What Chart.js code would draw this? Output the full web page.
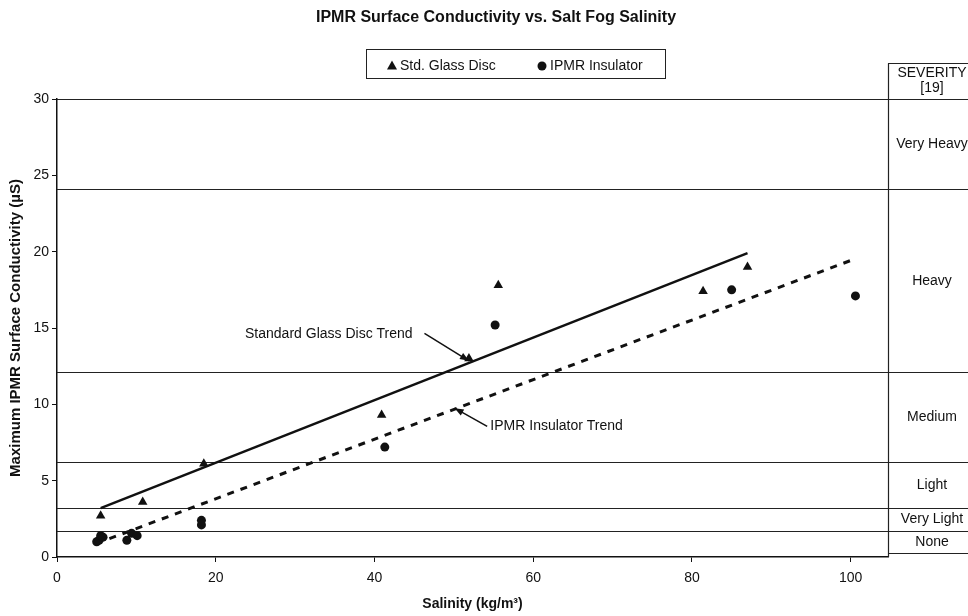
<!DOCTYPE html>
<html>
<head>
<meta charset="utf-8">
<script src="https://cdn.jsdelivr.net/npm/chart.js@4.4.1/dist/chart.umd.min.js"></script>
<style>
  html, body { margin: 0; padding: 0; background: #fff; }
  #wrap { width: 968px; height: 616px; position: relative; }
</style>
</head>
<body>
<div id="wrap"><canvas id="salinityChart"></canvas></div>
<script>
const FONT = "'Liberation Sans', Arial, Helvetica, sans-serif";

// Std. Glass Disc measurements
const glassSalinity = [5.5, 10.8, 18.5, 40.9, 51.9, 55.6, 81.4, 87.0];
const glassConductivity = [2.7, 3.6, 6.1, 9.3, 13.0, 17.8, 17.4, 19.0];

// IPMR Insulator measurements
const ipmrSalinity = [5.0, 5.3, 5.5, 5.8, 8.8, 9.4, 10.1, 18.2, 18.2, 41.3, 55.2, 85.0, 100.6];
const ipmrConductivity = [1.0, 1.1, 1.4, 1.3, 1.1, 1.55, 1.4, 2.4, 2.1, 7.2, 15.2, 17.5, 17.1];

// trend line end points
const glassTrendX = [5.5, 87.0];
const glassTrendY = [3.2, 19.9];
const ipmrTrendX = [6.6, 100.4];
const ipmrTrendY = [1.2, 19.5];

// severity classes (upper bound of each band, last = bottom of table)
const severityBounds = [30, 24.1, 12.1, 6.2, 3.2, 1.7, 0.25];
const severityLabels = ['Very Heavy', 'Heavy', 'Medium', 'Light', 'Very Light', 'None'];

const xTicks = [0, 20, 40, 60, 80, 100];
const yTicks = [0, 5, 10, 15, 20, 25, 30];

function toPoints(xs, ys) {
  return xs.map(function(x, i) { return { x: x, y: ys[i] }; });
}

function line(ctx, x1, y1, x2, y2) {
  ctx.beginPath();
  ctx.moveTo(x1, y1);
  ctx.lineTo(x2, y2);
  ctx.stroke();
}

function arrow(ctx, x1, y1, x2, y2) {
  line(ctx, x1, y1, x2, y2);
  const a = Math.atan2(y2 - y1, x2 - x1);
  const len = 9, w = 3.5;
  ctx.beginPath();
  ctx.moveTo(x2, y2);
  ctx.lineTo(x2 - len * Math.cos(a) + w * Math.sin(a), y2 - len * Math.sin(a) - w * Math.cos(a));
  ctx.lineTo(x2 - len * Math.cos(a) - w * Math.sin(a), y2 - len * Math.sin(a) + w * Math.cos(a));
  ctx.closePath();
  ctx.fill();
}

// severity bands + table on the right
const severityPlugin = {
  id: 'severity',
  beforeDatasetsDraw(chart) {
    const { ctx, chartArea, scales } = chart;
    const y = scales.y;
    const colLeft = chartArea.right;
    const colRight = colLeft + 88;
    const colMid = (colLeft + colRight) / 2;
    ctx.save();
    ctx.strokeStyle = '#222';
    ctx.lineWidth = 1.2;
    severityBounds.forEach(function(v, i) {
      const py = Math.round(y.getPixelForValue(v)) + 0.5;
      const startX = i === severityBounds.length - 1 ? colLeft : chartArea.left;
      line(ctx, startX, py, colRight, py);
    });
    const headTop = 63.5;
    line(ctx, colLeft + 0.5, headTop, colLeft + 0.5, chartArea.bottom);
    line(ctx, colLeft, headTop, colRight, headTop);

    ctx.fillStyle = '#111';
    ctx.textAlign = 'center';
    ctx.textBaseline = 'middle';
    ctx.font = '14px ' + FONT;
    ctx.fillText('SEVERITY', colMid, 73);
    ctx.fillText('[19]', colMid, 88);
    severityLabels.forEach(function(lbl, i) {
      const top = y.getPixelForValue(severityBounds[i]);
      const bot = y.getPixelForValue(severityBounds[i + 1]);
      ctx.fillText(lbl, colMid, (top + bot) / 2);
    });
    ctx.restore();
  },
  afterDatasetsDraw(chart) {
    const { ctx, scales } = chart;
    const x = scales.x, y = scales.y;
    ctx.save();
    ctx.fillStyle = '#111';
    ctx.strokeStyle = '#111';
    ctx.lineWidth = 1.5;
    ctx.font = '14px ' + FONT;
    ctx.textBaseline = 'middle';

    ctx.textAlign = 'right';
    ctx.fillText('Standard Glass Disc Trend', x.getPixelForValue(44.8), y.getPixelForValue(14.6));
    arrow(ctx, x.getPixelForValue(46.3), y.getPixelForValue(14.65), x.getPixelForValue(51.9), y.getPixelForValue(12.85));

    ctx.textAlign = 'left';
    ctx.fillText('IPMR Insulator Trend', x.getPixelForValue(54.6), y.getPixelForValue(8.55));
    arrow(ctx, x.getPixelForValue(54.2), y.getPixelForValue(8.55), x.getPixelForValue(50.1), y.getPixelForValue(9.75));
    ctx.restore();
  },
  afterDraw(chart) {
    const ctx = chart.ctx;
    ctx.save();
    ctx.fillStyle = '#111';
    ctx.textBaseline = 'middle';
    ctx.textAlign = 'center';
    ctx.font = 'bold 16px ' + FONT;
    ctx.fillText('IPMR Surface Conductivity vs. Salt Fog Salinity', 496, 18);

    // legend box
    ctx.strokeStyle = '#222';
    ctx.lineWidth = 1;
    ctx.strokeRect(366.5, 49.5, 299, 29);
    ctx.beginPath();
    ctx.moveTo(392, 60.5);
    ctx.lineTo(397, 69.5);
    ctx.lineTo(387, 69.5);
    ctx.closePath();
    ctx.fill();
    ctx.beginPath();
    ctx.arc(542, 66, 4.5, 0, Math.PI * 2);
    ctx.fill();
    ctx.textAlign = 'left';
    ctx.font = '14px ' + FONT;
    ctx.fillText('Std. Glass Disc', 400, 66);
    ctx.fillText('IPMR Insulator', 550, 66);
    ctx.restore();
  }
};

document.addEventListener('DOMContentLoaded', function() {
  const config = {
    type: 'scatter',
    data: {
      datasets: [
        {
          label: 'Std. Glass Disc',
          data: toPoints(glassSalinity, glassConductivity),
          pointStyle: 'triangle',
          pointRadius: 5.5,
          backgroundColor: '#111',
          borderColor: '#111',
          borderWidth: 0
        },
        {
          label: 'IPMR Insulator',
          data: toPoints(ipmrSalinity, ipmrConductivity),
          pointStyle: 'circle',
          pointRadius: 4.5,
          backgroundColor: '#111',
          borderColor: '#111',
          borderWidth: 0
        },
        {
          label: 'Standard Glass Disc Trend',
          type: 'line',
          data: toPoints(glassTrendX, glassTrendY),
          borderColor: '#111',
          borderWidth: 2.5,
          pointRadius: 0,
          fill: false
        },
        {
          label: 'IPMR Insulator Trend',
          type: 'line',
          data: toPoints(ipmrTrendX, ipmrTrendY),
          borderColor: '#111',
          borderWidth: 3,
          borderDash: [7, 7],
          pointRadius: 0,
          fill: false
        }
      ]
    },
    options: {
      responsive: true,
      maintainAspectRatio: false,
      animation: false,
      devicePixelRatio: 1,
      layout: { padding: { top: 99, right: 80, left: 0, bottom: 0 } },
      plugins: {
        legend: { display: false },
        title: { display: false },
        tooltip: { enabled: true }
      },
      scales: {
        x: {
          type: 'linear',
          min: 0,
          max: 104.7,
          afterBuildTicks: function(scale) {
            scale.ticks = xTicks.map(function(v) { return { value: v }; });
          },
          afterFit: function(scale) { scale.height = 59; },
          ticks: {
            color: '#111',
            padding: 8,
            font: { family: FONT, size: 14 }
          },
          grid: { drawOnChartArea: false, tickLength: 5, color: '#111' },
          border: { color: '#111', width: 1.5 },
          title: {
            display: true,
            text: 'Salinity (kg/m³)',
            color: '#111',
            font: { family: FONT, size: 14, weight: 'bold' },
            padding: { top: 0, bottom: 3 }
          }
        },
        y: {
          min: 0,
          max: 30,
          afterBuildTicks: function(scale) {
            scale.ticks = yTicks.map(function(v) { return { value: v }; });
          },
          afterFit: function(scale) { scale.width = 57; },
          ticks: {
            color: '#111',
            padding: 3,
            font: { family: FONT, size: 14 }
          },
          grid: { drawOnChartArea: false, tickLength: 5, color: '#111' },
          border: { color: '#111', width: 1.5 },
          title: {
            display: true,
            text: 'Maximum IPMR Surface Conductivity (µS)',
            color: '#111',
            font: { family: FONT, size: 15, weight: 'bold' },
            padding: { top: 7, bottom: 0 }
          }
        }
      }
    },
    plugins: [severityPlugin]
  };

  const salinityChart = new Chart(document.getElementById('salinityChart'), config);
});
</script>
</body>
</html>
